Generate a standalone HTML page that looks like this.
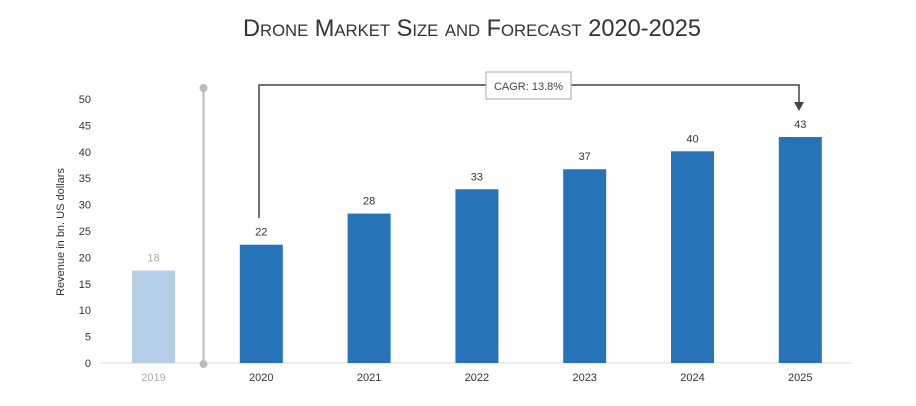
<!DOCTYPE html>
<html><head><meta charset="utf-8"><style>
body{margin:0;background:#fff;font-family:"Liberation Sans",sans-serif}
</style></head><body>
<svg id="chart" width="916" height="401" xmlns="http://www.w3.org/2000/svg" font-family="Liberation Sans, sans-serif">
<text x="472" y="36" text-anchor="middle" font-size="24" fill="#333" style="font-variant:small-caps" textLength="458" lengthAdjust="spacingAndGlyphs">Drone Market Size and Forecast 2020-2025</text>
<text transform="translate(64,232) rotate(-90)" text-anchor="middle" font-size="11" fill="#333">Revenue in bn. US dollars</text>
<g id="yticks"></g>
<line x1="100" y1="363" x2="852" y2="363" stroke="#ddd" stroke-width="1"/>
<g id="bars"></g>
<line x1="203.5" y1="88" x2="203.5" y2="364" stroke="#bbb" stroke-width="2"/>
<circle cx="203.5" cy="88" r="4" fill="#bbb"/>
<circle cx="203.5" cy="364" r="4" fill="#bbb"/>
<polyline points="259,218 259,85 799,85 799,103" fill="none" stroke="#444" stroke-width="1.5"/>
<polygon points="794,102 804,102 799,111" fill="#444"/>
<rect x="486" y="72" width="85" height="27" fill="#fff" stroke="#aaa" stroke-width="1"/>
<text x="528.5" y="90" text-anchor="middle" font-size="11" fill="#444">CAGR: 13.8%</text>
</svg>
<script>
const categories=["2019","2020","2021","2022","2023","2024","2025"];
const values=[17.5,22.4,28.3,32.9,36.7,40.1,42.8];
const labels=["18","22","28","33","37","40","43"];
const yTicks=[0,5,10,15,20,25,30,35,40,45,50];
const NS="http://www.w3.org/2000/svg";
const y=v=>363-v*(264/50);
const x=i=>153.5+i*107.8;
const bw=43;
const yt=document.getElementById('yticks');
yTicks.forEach(t=>{const e=document.createElementNS(NS,'text');


e.setAttribute('x',91);e.setAttribute('y',y(t)+4);e.setAttribute('text-anchor','end');e.setAttribute('font-size','11');e.setAttribute('fill','#333');e.textContent=t;yt.appendChild(e);});
const g=document.getElementById('bars');
categories.forEach((c,i)=>{const col=i===0?'#b3cee6':'#2673b8';
const r=document.createElementNS(NS,'rect');


r.setAttribute('x',x(i)-bw/2);r.setAttribute('y',y(values[i]));r.setAttribute('width',bw);r.setAttribute('height',363-y(values[i]));r.setAttribute('fill',col);g.appendChild(r);
const l=document.createElementNS(NS,'text');


l.setAttribute('x',x(i));l.setAttribute('y',y(values[i])-9);l.setAttribute('text-anchor','middle');l.setAttribute('font-size','11');l.setAttribute('fill',i===0?'#aaa':'#333');l.textContent=labels[i];g.appendChild(l);
const cl=document.createElementNS(NS,'text');


cl.setAttribute('x',x(i));cl.setAttribute('y',381);cl.setAttribute('text-anchor','middle');cl.setAttribute('font-size','11');cl.setAttribute('fill',i===0?'#aaa':'#333');cl.textContent=c;g.appendChild(cl);});
</script>
</body></html>
